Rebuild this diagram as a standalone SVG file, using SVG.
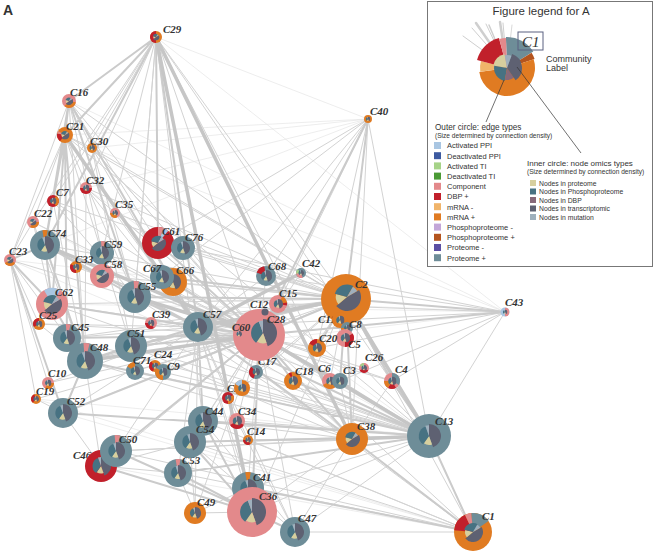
<svg xmlns="http://www.w3.org/2000/svg" width="654" height="556" viewBox="0 0 654 556">
<style>
.pp{fill:#6e8d98}.cp{fill:#e3898b}.dbp{fill:#c1202b}.mp{fill:#e07b22}.ap{fill:#a9c6e2}.at{fill:#a6d388}
.lb{font-family:"Liberation Serif",serif;font-style:italic;font-weight:bold;font-size:11px;fill:#333}
.e{fill:none;stroke-linecap:round}
.e1{stroke:#e0e0e0;stroke-width:.6}.e2{stroke:#d3d3d3;stroke-width:1}.e3{stroke:#cbcbcb;stroke-width:2}.e4{stroke:#c6c6c6;stroke-width:3.5}
.lt{font-family:"Liberation Sans",Arial,sans-serif;fill:#333}
</style>
<defs>
<symbol id="pie" viewBox="-1 -1 2 2">
<path fill="#5e6172" d="M0 0L0 -1A1 1 0 0 1 0.342 0.94Z"/>
<path fill="#d7cf9e" d="M0 0L0.257 0.705A0.75 0.75 0 0 1 -0.43 0.614Z"/>
<path fill="#477282" d="M0 0L-0.488 0.696A0.85 0.85 0 0 1 -0.291 -0.799Z"/>
<path fill="#9fb0bd" d="M0 0L-0.308 -0.846A0.9 0.9 0 0 1 0 -0.9Z"/>
</symbol>
<symbol id="pieB" viewBox="-1 -1 2 2">
<path fill="#5e6172" d="M0 0L0.866 -0.5A1 1 0 0 1 -0.766 0.643Z"/>
<path fill="#d7cf9e" d="M0 0L-0.613 0.514A0.8 0.8 0 0 1 -0.773 -0.207Z"/>
<path fill="#477282" d="M0 0L-0.869 -0.233A0.9 0.9 0 0 1 0.45 -0.779Z"/>
<path fill="#9fb0bd" d="M0 0L0.425 -0.736A0.85 0.85 0 0 1 0.736 -0.425Z"/>
</symbol>
<symbol id="s20" viewBox="-1 -1 2 2"><path d="M0 0L0 -1A1 1 0 0 1 0.342 -0.94Z"/></symbol>
<symbol id="s60" viewBox="-1 -1 2 2"><path d="M0 0L0 -1A1 1 0 0 1 0.866 -0.5Z"/></symbol>
<symbol id="s120" viewBox="-1 -1 2 2"><path d="M0 0L0 -1A1 1 0 0 1 0.866 0.5Z"/></symbol>
<symbol id="s180" viewBox="-1 -1 2 2"><path d="M0 0L0 -1A1 1 0 0 1 0 1Z"/></symbol>
</defs>
<rect width="654" height="556" fill="#fff"/>
<text x="3" y="15" class="lt" font-size="14" font-weight="bold" fill="#111">A</text>
<g id="connectors">
<path class="e e1" d="M156 37L368 119M92 148L368 119M92 148L505 312M69 101L505 312M65 135L368 119M505 312L135 297M505 312L85 361M473 532L63 413M473 532L101 466M429 436L10 260M368 119L45 245M429 436L36 399M156 37L505 312M33 222L429 436M86 188L429 436M368 119L86 188M505 312L52 304M473 532L36 399M10 260L346 299"/>
<path class="e e2" d="M156 37L92 148M156 37L53 201M156 37L33 222M156 37L86 188M156 37L102 253M156 37L135 297M156 37L131 346M156 37L259 335M156 37L346 299M156 37L203 421M156 37L429 436M156 37L317 348M69 101L10 260M69 101L53 201M69 101L92 148M69 101L102 253M69 101L259 335M69 101L346 299M69 101L85 361M69 101L158 243M65 135L10 260M65 135L33 222M65 135L92 148M65 135L135 297M65 135L346 299M65 135L429 436M65 135L131 346M92 148L346 299M92 148L259 335M92 148L198 327M92 148L131 346M92 148L135 297M92 148L352 439M86 188L259 335M86 188L346 299M86 188L198 327M86 188L85 361M53 201L259 335M53 201L135 297M53 201L85 361M53 201L346 299M115 213L259 335M115 213L198 327M115 213L346 299M33 222L52 304M33 222L259 335M33 222L85 361M10 260L48 383M10 260L36 399M10 260L85 361M10 260L259 335M10 260L33 222M10 260L39 324M368 119L198 327M368 119L158 243M368 119L266 276M368 119L278 304M368 119L317 348M368 119L352 439M368 119L429 436M368 119L135 297M505 312L198 327M505 312L392 381M505 312L317 348M505 312L278 304M505 312L266 276M505 312L158 243M505 312L340 381M505 312L429 436M429 436L252 512M429 436L248 488M429 436L116 451M429 436L135 297M429 436L295 532M429 436L52 304M473 532L295 532M473 532L190 442M473 532L203 421M473 532L198 327M473 532L116 451M473 532L259 335M473 532L346 299M473 532L178 473M473 532L248 440M295 532L198 327M295 532L352 439M295 532L259 335M295 532L190 442M295 532L203 421M295 532L237 421M195 513L252 512M195 513L178 473M195 513L248 488M195 513L190 442M195 513L198 327M195 513L259 335M101 466L63 413M101 466L85 361M101 466L178 473M101 466L259 335M101 466L190 442M352 439L392 381M352 439L340 381M352 439L293 381M352 439L252 512M352 439L190 442M352 439L203 421M352 439L248 440M352 439L116 451M48 383L259 335M48 383L198 327M36 399L259 335M36 399L63 413M39 324L259 335M39 324L85 361M39 324L198 327M102 253L259 335M102 276L259 335M102 276L346 299M76 267L259 335M151 323L259 335M151 323L346 299M183 248L346 299M183 248L259 335M266 276L259 335M266 276L198 327M278 304L259 335M301 273L346 299M301 273L259 335M256 372L429 436M317 348L198 327M364 368L429 436M364 368L259 335M330 381L259 335M340 381L198 327M163 372L259 335M155 366L346 299M135 371L259 335M163 372L429 436M135 371L429 436M63 413L198 327M63 413L346 299M67 338L346 299M67 338L198 327M52 304L346 299M52 304L259 335M237 421L429 436M248 440L429 436M237 421L259 335M248 440L198 327M203 421L259 335M190 442L259 335M178 473L259 335M178 473L198 327M116 451L198 327M248 488L198 327M248 488L259 335M252 512L198 327M252 512L346 299M45 245L346 299M158 243L346 299M162 277L259 335M173 282L346 299M131 346L429 436M131 346L352 439M135 297L352 439M198 327L392 381M198 327L293 381M85 361L346 299M85 361L352 439M67 338L429 436M242 388L429 436M242 388L346 299M256 372L346 299M293 381L346 299M330 381L346 299M392 381L259 335"/>
<path class="e e3" d="M156 37L198 327M156 37L158 243M156 37L45 245M156 37L65 135M156 37L69 101M69 101L65 135M69 101L45 245M69 101L135 297M69 101L198 327M65 135L85 361M65 135L52 304M65 135L45 245M65 135L67 338M45 245L52 304M45 245L85 361M45 245L135 297M45 245L198 327M10 260L45 245M10 260L52 304M10 260L63 413M52 304L85 361M52 304L198 327M85 361L63 413M85 361L131 346M85 361L198 327M85 361L429 436M67 338L259 335M131 346L259 335M131 346L346 299M135 297L346 299M135 297L198 327M158 243L183 248M158 243L259 335M173 282L259 335M162 277L346 299M198 327L259 335M198 327L429 436M198 327L352 439M198 327L203 421M259 335L346 299M259 335L352 439M259 335L252 512M259 335L293 381M259 335L340 381M346 299L317 348M346 299L392 381M346 299L340 381M346 299L352 439M203 421L190 442M203 421L429 436M203 421L252 512M190 442L429 436M190 442L252 512M178 473L252 512M178 473L429 436M116 451L252 512M116 451L259 335M63 413L259 335M63 413L429 436M248 488L252 512M252 512L295 532M473 532L429 436M473 532L248 488M473 532L352 439M368 119L259 335M368 119L346 299M505 312L346 299M505 312L259 335M293 381L429 436M340 381L429 436M392 381L429 436M101 466L116 451M101 466L252 512"/>
<path class="e e4" d="M156 37L252 512M156 37L352 439M65 135L198 327M45 245L259 335M85 361L259 335M198 327L346 299M259 335L429 436M346 299L429 436M135 297L259 335M198 327L301 273M429 436L352 439"/>
</g>
<g id="C29"><circle class="mp" cx="156" cy="37" r="6"/><use href="#s180" x="150" y="31" width="12" height="12" class="dbp" transform="rotate(180 156 37)"/><use href="#pieB" x="152.5" y="33.5" width="7" height="7"/><text class="lb" x="163" y="33">C29</text></g>
<g id="C16"><circle class="cp" cx="69" cy="101" r="7"/><use href="#s120" x="62" y="94" width="14" height="14" class="mp" transform="rotate(100 69 101)"/><use href="#pieB" x="65" y="97" width="8" height="8"/><text class="lb" x="70" y="96">C16</text></g>
<g id="C21"><circle class="mp" cx="65" cy="135" r="8"/><use href="#s60" x="57" y="127" width="16" height="16" class="dbp" transform="rotate(220 65 135)"/><use href="#s20" x="57" y="127" width="16" height="16" class="cp" transform="rotate(280 65 135)"/><use href="#pieB" x="60.5" y="130.5" width="9" height="9"/><text class="lb" x="66" y="130">C21</text></g>
<g id="C30"><circle class="mp" cx="92" cy="148" r="5"/><use href="#pie" x="89" y="145" width="6" height="6"/><text class="lb" x="90" y="145">C30</text></g>
<g id="C32"><circle class="cp" cx="86" cy="188" r="6"/><use href="#s180" x="80" y="182" width="12" height="12" class="dbp" transform="rotate(90 86 188)"/><use href="#pie" x="82.5" y="184.5" width="7" height="7"/><text class="lb" x="86" y="184">C32</text></g>
<g id="C7"><circle class="dbp" cx="53" cy="201" r="6"/><use href="#s120" x="47" y="195" width="12" height="12" class="mp" transform="rotate(30 53 201)"/><use href="#pie" x="49.5" y="197.5" width="7" height="7"/><text class="lb" x="56" y="196">C7</text></g>
<g id="C35"><circle class="cp" cx="115" cy="213" r="5"/><use href="#s120" x="110" y="208" width="10" height="10" class="mp" transform="rotate(150 115 213)"/><use href="#pie" x="112" y="210" width="6" height="6"/><text class="lb" x="115" y="208">C35</text></g>
<g id="C22"><circle class="cp" cx="33" cy="222" r="6"/><use href="#s120" x="27" y="216" width="12" height="12" class="mp" transform="rotate(90 33 222)"/><use href="#pieB" x="29.5" y="218.5" width="7" height="7"/><text class="lb" x="34" y="217">C22</text></g>
<g id="C74"><circle class="pp" cx="45" cy="245" r="15"/><use href="#s20" x="30" y="230" width="30" height="30" class="mp" transform="rotate(350 45 245)"/><use href="#pie" x="36" y="236" width="18" height="18"/><text class="lb" x="48" y="237">C74</text></g>
<g id="C23"><circle class="cp" cx="10" cy="260" r="6"/><use href="#s120" x="4" y="254" width="12" height="12" class="mp" transform="rotate(120 10 260)"/><use href="#pieB" x="6.5" y="256.5" width="7" height="7"/><text class="lb" x="9" y="255">C23</text></g>
<g id="C59"><circle class="pp" cx="102" cy="253" r="12"/><use href="#s20" x="90" y="241" width="24" height="24" class="cp" transform="rotate(355 102 253)"/><use href="#pie" x="95" y="246" width="14" height="14"/><text class="lb" x="104" y="248">C59</text></g>
<g id="C33"><circle class="mp" cx="76" cy="267" r="6"/><use href="#s120" x="70" y="261" width="12" height="12" class="dbp" transform="rotate(180 76 267)"/><use href="#pie" x="72.5" y="263.5" width="7" height="7"/><text class="lb" x="75" y="263">C33</text></g>
<g id="C58"><circle class="cp" cx="102" cy="276" r="12"/><use href="#pieB" x="95" y="269" width="14" height="14"/><text class="lb" x="104" y="268">C58</text></g>
<g id="C61"><circle class="dbp" cx="158" cy="243" r="16"/><use href="#s20" x="142" y="227" width="32" height="32" class="cp"/><use href="#s20" x="142" y="227" width="32" height="32" class="ap" transform="rotate(20 158 243)"/><use href="#pieB" x="150" y="235" width="16" height="16"/><text class="lb" x="162" y="235">C61</text></g>
<g id="C76"><circle class="pp" cx="183" cy="248" r="12"/><use href="#pie" x="176" y="241" width="14" height="14"/><text class="lb" x="185" y="241">C76</text></g>
<g id="C66"><circle class="mp" cx="173" cy="282" r="14"/><use href="#pie" x="165" y="274" width="16" height="16"/><text class="lb" x="176" y="274">C66</text></g>
<g id="C67"><circle class="pp" cx="162" cy="277" r="12"/><use href="#pie" x="155" y="270" width="14" height="14"/><text class="lb" x="143" y="272">C67</text></g>
<g id="C55"><circle class="pp" cx="135" cy="297" r="16"/><use href="#s20" x="119" y="281" width="32" height="32" class="cp" transform="rotate(355 135 297)"/><use href="#pie" x="126" y="288" width="18" height="18"/><text class="lb" x="138" y="290">C55</text></g>
<g id="C62"><circle class="cp" cx="52" cy="304" r="16"/><use href="#s60" x="36" y="288" width="32" height="32" class="ap" transform="rotate(330 52 304)"/><use href="#pieB" x="42" y="294" width="20" height="20"/><text class="lb" x="55" y="296">C62</text></g>
<g id="C25"><circle class="mp" cx="39" cy="324" r="6"/><use href="#s120" x="33" y="318" width="12" height="12" class="dbp" transform="rotate(240 39 324)"/><use href="#pie" x="35.5" y="320.5" width="7" height="7"/><text class="lb" x="39" y="319">C25</text></g>
<g id="C39"><circle class="cp" cx="151" cy="323" r="6"/><use href="#s120" x="145" y="317" width="12" height="12" class="dbp" transform="rotate(150 151 323)"/><use href="#pie" x="147.5" y="319.5" width="7" height="7"/><text class="lb" x="152" y="318">C39</text></g>
<g id="C57"><circle class="pp" cx="198" cy="327" r="15"/><use href="#pie" x="189" y="318" width="18" height="18"/><text class="lb" x="203" y="318">C57</text></g>
<g id="C45"><circle class="pp" cx="67" cy="338" r="14"/><use href="#s20" x="53" y="324" width="28" height="28" class="cp" transform="rotate(355 67 338)"/><use href="#pie" x="59" y="330" width="16" height="16"/><text class="lb" x="71" y="331">C45</text></g>
<g id="C51"><circle class="pp" cx="131" cy="346" r="16"/><use href="#pie" x="122" y="337" width="18" height="18"/><text class="lb" x="127" y="337">C51</text></g>
<g id="C48"><circle class="pp" cx="85" cy="361" r="18"/><use href="#s20" x="67" y="343" width="36" height="36" class="cp" transform="rotate(355 85 361)"/><use href="#pie" x="75" y="351" width="20" height="20"/><text class="lb" x="90" y="351">C48</text></g>
<g id="C71"><circle class="pp" cx="135" cy="371" r="9"/><use href="#s60" x="126" y="362" width="18" height="18" class="mp" transform="rotate(300 135 371)"/><use href="#pie" x="130" y="366" width="10" height="10"/><text class="lb" x="133" y="364">C71</text></g>
<g id="C24"><circle class="mp" cx="155" cy="366" r="6"/><use href="#s120" x="149" y="360" width="12" height="12" class="dbp" transform="rotate(200 155 366)"/><use href="#pie" x="151.5" y="362.5" width="7" height="7"/><text class="lb" x="154" y="358">C24</text></g>
<g id="C9"><circle class="pp" cx="163" cy="372" r="8"/><use href="#s120" x="155" y="364" width="16" height="16" class="mp" transform="rotate(180 163 372)"/><use href="#pie" x="158.5" y="367.5" width="9" height="9"/><text class="lb" x="167" y="370">C9</text></g>
<g id="C10"><circle class="cp" cx="48" cy="383" r="6"/><use href="#s120" x="42" y="377" width="12" height="12" class="mp" transform="rotate(90 48 383)"/><use href="#pie" x="44.5" y="379.5" width="7" height="7"/><text class="lb" x="48" y="377">C10</text></g>
<g id="C19"><circle class="mp" cx="36" cy="399" r="5"/><use href="#s120" x="31" y="394" width="10" height="10" class="dbp" transform="rotate(220 36 399)"/><use href="#pie" x="33" y="396" width="6" height="6"/><text class="lb" x="36" y="395">C19</text></g>
<g id="C52"><circle class="pp" cx="63" cy="413" r="15"/><use href="#pie" x="54" y="404" width="18" height="18"/><text class="lb" x="67" y="405">C52</text></g>
<g id="C46"><text class="lb" x="73" y="459">C46</text><circle class="dbp" cx="101" cy="466" r="16"/><use href="#pie" x="91" y="456" width="20" height="20"/></g>
<g id="C50"><circle class="pp" cx="116" cy="451" r="16"/><use href="#s20" x="100" y="435" width="32" height="32" class="cp" transform="rotate(355 116 451)"/><use href="#pie" x="107" y="442" width="18" height="18"/><text class="lb" x="119" y="443">C50</text></g>
<g id="C53"><circle class="pp" cx="178" cy="473" r="14"/><use href="#s20" x="164" y="459" width="28" height="28" class="cp" transform="rotate(350 178 473)"/><use href="#pie" x="170" y="465" width="16" height="16"/><text class="lb" x="182" y="464">C53</text></g>
<g id="C49"><circle class="mp" cx="195" cy="513" r="11"/><use href="#pie" x="189" y="507" width="12" height="12"/><text class="lb" x="197" y="506">C49</text></g>
<g id="C44"><circle class="pp" cx="203" cy="421" r="15"/><use href="#pie" x="194" y="412" width="18" height="18"/><text class="lb" x="205" y="415">C44</text></g>
<g id="C54"><circle class="pp" cx="190" cy="442" r="16"/><use href="#pie" x="181" y="433" width="18" height="18"/><text class="lb" x="196" y="433">C54</text></g>
<g id="C34"><circle class="cp" cx="237" cy="421" r="8"/><use href="#s120" x="229" y="413" width="16" height="16" class="dbp" transform="rotate(120 237 421)"/><use href="#pie" x="232" y="416" width="10" height="10"/><text class="lb" x="238" y="415">C34</text></g>
<g id="C14"><circle class="mp" cx="248" cy="440" r="5"/><use href="#s120" x="243" y="435" width="10" height="10" class="dbp" transform="rotate(150 248 440)"/><use href="#pie" x="245" y="437" width="6" height="6"/><text class="lb" x="247" y="435">C14</text></g>
<g id="C41"><circle class="pp" cx="248" cy="488" r="16"/><use href="#s20" x="232" y="472" width="32" height="32" class="mp" transform="rotate(350 248 488)"/><use href="#pie" x="239" y="479" width="18" height="18"/><text class="lb" x="253" y="481">C41</text></g>
<g id="C36"><circle class="cp" cx="252" cy="512" r="25"/><use href="#pie" x="238" y="498" width="28" height="28"/><text class="lb" x="259" y="500">C36</text></g>
<g id="C47"><circle class="pp" cx="295" cy="532" r="15"/><use href="#pie" x="286" y="523" width="18" height="18"/><text class="lb" x="298" y="522">C47</text></g>
<g id="C38"><circle class="mp" cx="352" cy="439" r="16"/><use href="#pieB" x="344" y="431" width="16" height="16"/><text class="lb" x="357" y="430">C38</text></g>
<g id="C13"><circle class="pp" cx="429" cy="436" r="22"/><use href="#pie" x="417" y="424" width="24" height="24"/><text class="lb" x="435" y="425">C13</text></g>
<g id="C1"><circle class="mp" cx="473" cy="532" r="19"/><use href="#s60" x="454" y="513" width="38" height="38" class="dbp" transform="rotate(275 473 532)"/><use href="#s20" x="454" y="513" width="38" height="38" class="cp" transform="rotate(335 473 532)"/><use href="#s60" x="454" y="513" width="38" height="38" class="pp" transform="rotate(355 473 532)"/><use href="#pieB" x="463" y="522" width="20" height="20"/><text class="lb" x="482" y="520">C1</text></g>
<g id="C18"><circle class="mp" cx="293" cy="381" r="9"/><use href="#s20" x="284" y="372" width="18" height="18" class="dbp" transform="rotate(330 293 381)"/><use href="#pie" x="288" y="376" width="10" height="10"/><text class="lb" x="295" y="375">C18</text></g>
<g id="C6"><circle class="cp" cx="330" cy="381" r="8"/><use href="#s120" x="322" y="373" width="16" height="16" class="mp" transform="rotate(120 330 381)"/><use href="#pie" x="325.5" y="376.5" width="9" height="9"/><text class="lb" x="318" y="372">C6</text></g>
<g id="C3"><circle class="pp" cx="340" cy="381" r="8"/><use href="#pie" x="335.5" y="376.5" width="9" height="9"/><text class="lb" x="343" y="374">C3</text></g>
<g id="C26"><circle class="cp" cx="364" cy="368" r="5"/><use href="#s120" x="359" y="363" width="10" height="10" class="dbp" transform="rotate(120 364 368)"/><use href="#s60" x="359" y="363" width="10" height="10" class="at" transform="rotate(300 364 368)"/><use href="#pie" x="361" y="365" width="6" height="6"/><text class="lb" x="365" y="361">C26</text></g>
<g id="C4"><circle class="cp" cx="392" cy="381" r="8"/><use href="#s120" x="384" y="373" width="16" height="16" class="pp"/><use href="#s60" x="384" y="373" width="16" height="16" class="dbp" transform="rotate(150 392 381)"/><use href="#s60" x="384" y="373" width="16" height="16" class="mp" transform="rotate(210 392 381)"/><use href="#pie" x="387.5" y="376.5" width="9" height="9"/><text class="lb" x="395" y="373">C4</text></g>
<g id="C17"><circle class="pp" cx="256" cy="372" r="7"/><use href="#s120" x="249" y="365" width="14" height="14" class="dbp" transform="rotate(200 256 372)"/><use href="#pie" x="252" y="368" width="8" height="8"/><text class="lb" x="258" y="365">C17</text></g>
<g id="C27"><text class="lb" x="227" y="392">C27</text><circle class="mp" cx="242" cy="388" r="8"/><use href="#s60" x="234" y="380" width="16" height="16" class="ap" transform="rotate(300 242 388)"/><use href="#pie" x="237.5" y="383.5" width="9" height="9"/></g>
<g id="node-unlabelled"><circle class="dbp" cx="228" cy="398" r="6"/><use href="#s120" x="222" y="392" width="12" height="12" class="mp" transform="rotate(60 228 398)"/><use href="#pie" x="224.5" y="394.5" width="7" height="7"/></g>
<g id="C68"><circle class="pp" cx="266" cy="276" r="10"/><use href="#s60" x="256" y="266" width="20" height="20" class="dbp" transform="rotate(290 266 276)"/><use href="#pie" x="260" y="270" width="12" height="12"/><text class="lb" x="268" y="270">C68</text></g>
<g id="C42"><circle class="pp" cx="301" cy="273" r="5"/><use href="#s120" x="296" y="268" width="10" height="10" class="cp" transform="rotate(160 301 273)"/><use href="#s60" x="296" y="268" width="10" height="10" class="at" transform="rotate(260 301 273)"/><use href="#pie" x="298" y="270" width="6" height="6"/><text class="lb" x="302" y="267">C42</text></g>
<g id="C28"><circle class="cp" cx="259" cy="335" r="26"/><use href="#pie" x="249" y="319" width="28" height="28"/><text class="lb" x="267" y="323">C28</text></g>
<g id="C60"><use href="#pie" x="236" y="331" width="6" height="6"/><text class="lb" x="232" y="331">C60</text></g>
<g id="C12"><circle cx="265" cy="312" r="3.5" fill="#5e6172"/><text class="lb" x="250" y="308">C12</text></g>
<g id="C15"><circle class="cp" cx="278" cy="304" r="9"/><use href="#s60" x="269" y="295" width="18" height="18" class="mp" transform="rotate(30 278 304)"/><use href="#s20" x="269" y="295" width="18" height="18" class="dbp" transform="rotate(80 278 304)"/><use href="#pie" x="273" y="299" width="10" height="10"/><text class="lb" x="279" y="297">C15</text></g>
<g id="C2"><circle class="mp" cx="346" cy="299" r="25"/><use href="#pieB" x="333" y="283" width="28" height="28"/><text class="lb" x="355" y="288">C2</text></g>
<g id="C11"><text class="lb" x="318" y="323">C11</text><circle class="mp" cx="340" cy="320" r="8"/><use href="#pie" x="335.5" y="315.5" width="9" height="9"/></g>
<g id="C8"><circle class="pp" cx="347" cy="328" r="6"/><use href="#s120" x="341" y="322" width="12" height="12" class="mp" transform="rotate(150 347 328)"/><use href="#pie" x="343.5" y="324.5" width="7" height="7"/><text class="lb" x="349" y="328">C8</text></g>
<g id="C5"><circle class="cp" cx="345" cy="338" r="9"/><use href="#s120" x="336" y="329" width="18" height="18" class="dbp" transform="rotate(60 345 338)"/><use href="#pie" x="340" y="333" width="10" height="10"/><text class="lb" x="348" y="348">C5</text></g>
<g id="C20"><circle class="mp" cx="317" cy="348" r="9"/><use href="#s60" x="308" y="339" width="18" height="18" class="dbp" transform="rotate(300 317 348)"/><use href="#pie" x="312" y="343" width="10" height="10"/><text class="lb" x="319" y="342">C20</text></g>
<g id="C43"><circle class="ap" cx="505" cy="312" r="4.5"/><use href="#s180" x="500.5" y="307.5" width="9" height="9" class="cp"/><use href="#pie" x="502.5" y="309.5" width="5" height="5"/><text class="lb" x="505" y="306">C43</text></g>
<g id="C40"><circle class="mp" cx="368" cy="119" r="4"/><use href="#pie" x="365.5" y="116.5" width="5" height="5"/><text class="lb" x="370" y="115">C40</text></g>
<g id="legend">
<rect x="427.5" y="1.5" width="225" height="265" fill="#fff" stroke="#777" stroke-width="1"/>
<text class="lt" x="541" y="15" font-size="11.5" text-anchor="middle">Figure legend for A</text>
<g stroke="#cfcfcf" stroke-linecap="round">
<line x1="507" y1="68" x2="463" y2="36" stroke-width="1"/>
<line x1="507" y1="68" x2="472" y2="28" stroke-width="1"/>
<line x1="507" y1="68" x2="476" y2="23" stroke-width="2.5"/>
<line x1="507" y1="68" x2="486" y2="24" stroke-width="1"/>
<line x1="507" y1="68" x2="489" y2="25" stroke-width="1.5"/>
<line x1="507" y1="68" x2="500" y2="22" stroke-width="2.5"/>
<line x1="507" y1="68" x2="503" y2="23" stroke-width="1"/>
<line x1="507" y1="68" x2="512" y2="25" stroke-width=".8"/>
</g>
<path class="pp" d="M507 68L505.92 37.02A31 31 0 0 1 533.29 51.57Z"/>
<path fill="#b4541e" d="M507 68L531.59 52.63A29 29 0 0 1 534.58 59.04Z"/>
<path class="mp" d="M507 68L533.63 59.35A28 28 0 1 1 479.27 71.9Z"/>
<path fill="#f0b46a" d="M507 68L480.26 71.76A27 27 0 0 1 480.92 61.01Z"/>
<path class="dbp" d="M507 68L477.06 59.98A31 31 0 0 1 498.98 38.05Z"/>
<path class="cp" d="M507 68L499.24 39.02A30 30 0 0 1 505.95 38.02Z"/>
<path fill="#d7cf9e" d="M507 68L493.21 65.57A14 14 0 0 1 504.57 54.21Z"/>
<path fill="#477282" d="M507 68L504.74 80.8A13 13 0 0 1 494.2 65.74Z"/>
<path fill="#87697a" d="M507 68L513.88 77.83A12 12 0 0 1 504.92 79.82Z"/>
<path fill="#5e6172" d="M507 68L512.13 53.9A15 15 0 0 1 515.6 80.29Z"/>
<path fill="#9fb0bd" d="M507 68L504.74 55.2A13 13 0 0 1 511.45 55.78Z"/>
<rect x="518" y="32" width="25" height="18" fill="none" stroke="#5a6080" stroke-width="1"/>
<text x="522" y="47" font-family="Liberation Serif,serif" font-style="italic" font-size="15" fill="#333">C1</text>
<text class="lt" x="546" y="62" font-size="9">Community</text>
<text class="lt" x="546" y="71" font-size="9">Label</text>
<line x1="504" y1="80" x2="486" y2="122" stroke="#333" stroke-width=".7"/>
<line x1="517" y1="67" x2="581" y2="153" stroke="#333" stroke-width=".7"/>
<text class="lt" x="435" y="129.5" font-size="8.2">Outer circle: edge types</text>
<text class="lt" x="435" y="138" font-size="6.6">(Size determined by connection density)</text>
<g class="lt" font-size="7.5">
<rect x="434" y="142" width="7" height="7" fill="#a9c6e2"/><text x="447" y="148.3">Activated PPI</text>
<rect x="434" y="152.2" width="7" height="7" fill="#3c5aa0"/><text x="447" y="158.5">Deactivated PPI</text>
<rect x="434" y="162.4" width="7" height="7" fill="#a6d388"/><text x="447" y="168.7">Activated TI</text>
<rect x="434" y="172.6" width="7" height="7" fill="#4a9a35"/><text x="447" y="178.9">Deactivated TI</text>
<rect x="434" y="182.8" width="7" height="7" fill="#e3898b"/><text x="447" y="189.1">Component</text>
<rect x="434" y="193" width="7" height="7" fill="#c1202b"/><text x="447" y="199.3">DBP +</text>
<rect x="434" y="203.2" width="7" height="7" fill="#f0b46a"/><text x="447" y="209.5">mRNA  -</text>
<rect x="434" y="213.4" width="7" height="7" fill="#e07b22"/><text x="447" y="219.7">mRNA +</text>
<rect x="434" y="223.6" width="7" height="7" fill="#c3a6d8"/><text x="447" y="229.9">Phosphoproteome -</text>
<rect x="434" y="233.8" width="7" height="7" fill="#b4541e"/><text x="447" y="240.1">Phosphoproteome +</text>
<rect x="434" y="244" width="7" height="7" fill="#5b4fa3"/><text x="447" y="250.3">Proteome  -</text>
<rect x="434" y="254.2" width="7" height="7" fill="#6e8d98"/><text x="447" y="260.5">Proteome +</text>
</g>
<text class="lt" x="527" y="165.5" font-size="8">Inner circle: node omics types</text>
<text class="lt" x="527" y="174" font-size="6.6">(Size determined by connection density)</text>
<g class="lt" font-size="6.8">
<rect x="530" y="180" width="6" height="6" fill="#d7cf9e"/><text x="539" y="185.5">Nodes in proteome</text>
<rect x="530" y="188.5" width="6" height="6" fill="#477282"/><text x="539" y="194">Nodes in Phosphoproteome</text>
<rect x="530" y="197" width="6" height="6" fill="#87697a"/><text x="539" y="202.5">Nodes in DBP</text>
<rect x="530" y="205.5" width="6" height="6" fill="#5e6172"/><text x="539" y="211">Nodes in transcriptomic</text>
<rect x="530" y="214" width="6" height="6" fill="#9fb0bd"/><text x="539" y="219.5">Nodes in mutation</text>
</g>
</g>
</svg>
